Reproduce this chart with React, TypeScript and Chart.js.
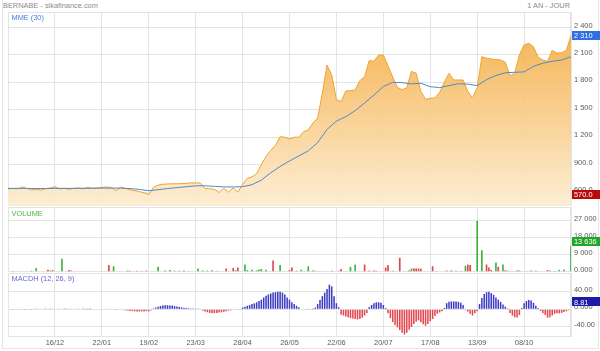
import React, { useEffect, useRef } from 'react';
import { Chart, registerables } from 'chart.js';

Chart.register(...registerables);

// ---------- DATA ----------
const chartTitle = 'BERNABE - sikafinance.com';
const periodLabel = '1 AN - JOUR';
const mmeLabel = 'MME (30)';
const volumeLabel = 'VOLUME';
const macdLabel = 'MACDH (12, 26, 9)';

const totalBars = 240;
const barsPerGrid = 20;
const dateLabels = ['16/12', '22/01', '19/02', '23/03', '28/04', '26/05', '22/06', '20/07', '17/08', '13/09', '08/10'];

const priceTicks = [600, 900, 1200, 1500, 1800, 2100, 2400];
const volumeTicks = [0, 9000, 18000, 27000];
const macdTicks = [-40, 0, 40];

// closing price, one value every 2 sessions
const priceStep = 2;
const price = [
  635, 640, 633, 655, 640, 622, 630, 620, 635, 645,
  658, 635, 640, 630, 640, 645, 635, 650, 640, 645,
  650, 655, 650, 615, 655, 640, 625, 615, 605, 590,
  572, 650, 675, 685, 688, 690, 690, 692, 695, 700,
  700, 698, 640, 635, 630, 595, 640, 600, 645, 600,
  680, 750, 765, 800, 900, 990, 1055, 1110, 1205, 1200,
  1180, 1200, 1200, 1260, 1280, 1355, 1410, 1680, 1990, 1880,
  1610, 1590, 1705, 1710, 1717, 1820, 1860, 2040, 2030, 2100,
  2100, 1980, 1860, 1745, 1720, 1740, 1920, 1900, 1700, 1615,
  1625, 1630, 1690, 1800, 1900, 1826, 1826, 1826, 1700, 1630,
  1740, 2080, 2065, 2055, 2050, 2045, 2020, 1870, 1900, 2100,
  2210, 2228, 2190, 2075, 2045, 2030, 2150, 2120, 2125, 2150,
  2310,
];

// MME(30), one value every 4 sessions
const mmeStep = 4;
const mme30 = [
  640, 640, 640, 638, 638, 640, 640, 640, 641, 642,
  643, 643, 642, 638, 628, 615, 625, 638, 648, 658,
  668, 668, 662, 656, 655, 658, 680, 730, 810, 880,
  940, 995, 1050, 1140, 1285, 1375, 1425, 1490, 1575, 1660,
  1755, 1800, 1797, 1783, 1790, 1753, 1742, 1765, 1785, 1780,
  1765, 1830, 1875, 1905, 1910, 1915, 1975, 2010, 2030, 2045,
  2080,
];

// daily volume (241 sessions)
const volume = [
  0, 0, 400, 0, 0, 300, 0, 0, 300, 0, 500, 0, 2000, 0, 300, 0, 0, 1000, 600, 900,
  0, 0, 0, 6900, 0, 0, 900, 600, 0, 0, 300, 0, 0, 200, 0, 300, 0, 300, 0, 0,
  0, 0, 0, 3500, 0, 2900, 0, 0, 0, 0, 0, 600, 500, 0, 0, 500, 0, 400, 0, 600,
  0, 0, 0, 0, 2600, 0, 0, 700, 0, 900, 0, 600, 0, 500, 0, 700, 0, 400, 0, 0,
  0, 1700, 0, 700, 0, 600, 0, 800, 0, 400, 0, 300, 0, 1700, 0, 0, 2000, 800, 2200, 0,
  0, 3800, 800, 0, 1000, 0, 700, 1200, 1400, 0, 1000, 0, 0, 6000, 0, 0, 3500, 0, 300, 0,
  900, 2250, 0, 500, 0, 1000, 0, 0, 2900, 0, 600, 500, 0, 400, 0, 0, 300, 0, 500, 0,
  0, 500, 1400, 0, 300, 0, 2600, 0, 3800, 0, 0, 0, 3800, 0, 600, 0, 700, 500, 0, 0,
  0, 2250, 3500, 0, 500, 0, 0, 7400, 0, 300, 0, 800, 1700, 1700, 1700, 1700, 1600, 0, 0, 0,
  0, 2900, 0, 400, 0, 300, 0, 600, 0, 700, 0, 500, 0, 400, 0, 3100, 3800, 3500, 0, 0,
  27000, 0, 11300, 0, 3800, 2200, 900, 0, 4850, 2600, 0, 3800, 800, 500, 0, 300, 0, 700, 700, 0,
  0, 400, 0, 700, 0, 500, 0, 300, 0, 0, 900, 500, 0, 400, 0, 1000, 0, 1200, 0, 0, 13636,
];

// sessions closing down (red volume bars)
const downDays = [
  2, 10, 17, 19, 26, 27, 35, 43, 51, 52, 55, 57, 59, 89, 93, 96, 98, 113, 118,
  120, 121, 131, 136, 138, 141, 142, 152, 154, 156, 157, 161, 162, 167, 173, 174,
  175, 176, 181, 185, 187, 189, 196, 197, 204, 205, 206, 209, 212, 213, 225, 230, 231, 233,
];

// MACD histogram (241 sessions)
const macdHist = [
  -0.8, -1, -0.6, -1, -0.8, -1.2, -0.8, -0.6, -1, -0.8, -0.5, -0.6, 0.8, 1, 1.2, 1.5, 1.8, 1.6, 2, 1.5,
  1.2, 1, 0.8, 1.5, 2, 1.6, 1.2, 0.8, 1, 1.4, 1.6, 1.2, 0.8, 0.5, 0.5, 0.3, 0, 0, 0, 0,
  0, 0, 0.8, -0.8, 0, 0, -1.5, 0, 0, 0, -2, -3, -3.5, -4, -4.5, -5, -5, -4.5, -5, -4,
  -4.5, -2, 2, 4, 6, 7.5, 8.5, 9.6, 9.5, 9, 8.5, 7.5, 6.5, 5.5, 4.5, 3.5, 3, 2.5, 2, 2,
  1.5, 1, 0, -3, -5, -6.5, -8, -9, -8.5, -8, -7, -6.5, -5.5, -4.5, -3, -2, 0, 0, -1.5, -1,
  4, 6, 8, 10, 12, 13.6, 16, 19, 22, 27, 31, 34, 36, 38, 39, 40, 40, 38, 34, 27,
  22, 16, 12, 8, 5, -1, 0.8, -1, 0.5, -0.8, 0.5, 4, 12, 21, 30, 38, 46, 56, 52, 30,
  14, 5, -12, -14, -16, -18, -20, -21, -22, -23, -22, -19, -14, -8, 5, 10, 14, 16, 16, 15,
  10, 3, -9, -20, -29, -36, -41, -47, -53, -57, -53, -46, -40, -33, -28, -25, -29, -34, -37, -33,
  -27, -22, -15, -10, -7, -4, 3, 14, 17, 18, 18, 18, 17, 15, 10, -2, -5, -10, -14, -9,
  -4, 12, 26, 35, 39, 40, 37, 33, 27, 22, 17, 11, 6, 2, -8, -14, -18, -18.5, -13, 3,
  14, 19, 21, 20, 15, 8, 3, -4, -9, -13, -19, -18, -14, -10, -9, -9, -8, -6, -4, -2, -1,
];

const lastPrice = 2310;
const minPrice = 570;
const lastVolume = 13636;
const lastMacd = 8.81;

// ---------- STYLE ----------
const FONT = 'Liberation Sans, Arial, sans-serif';
const FS = 7.4;
const GRID = '#e4e4e4';
const TICK = '#5a5a5a';
const AXIS_W = 29;

function fmt(v: number): string {
  if (Math.abs(v) >= 1000) return Math.round(v).toString().replace(/\B(?=(\d{3})+(?!\d))/g, ' ');
  return v.toPrecision(4);
}

type Tag = { value: number; text: string; color: string; shift?: number };

function makePanelPlugin(tags: Tag[]) {
  return {
    id: 'panel',
    beforeDatasetsDraw(chart: any) {
      const { ctx, chartArea: a } = chart;
      ctx.save();
      ctx.strokeStyle = GRID;
      ctx.lineWidth = 1;
      ctx.strokeRect(a.left + 0.5, a.top + 0.5, a.right - a.left - 1, a.bottom - a.top - 1);
      ctx.restore();
    },
    afterDraw(chart: any) {
      const { ctx, chartArea: a, scales } = chart;
      tags.forEach((t) => {
        const y = scales.y.getPixelForValue(t.value) + (t.shift || 0);
        ctx.save();
        ctx.fillStyle = t.color;
        ctx.fillRect(a.right + 1, Math.round(y - 4.5), chart.width - a.right - 1, 9);
        ctx.fillStyle = '#ffffff';
        ctx.font = `${FS}px ${FONT}`;
        ctx.textBaseline = 'middle';
        ctx.textAlign = 'left';
        ctx.fillText(t.text, a.right + 3, y + 0.5);
        ctx.restore();
      });
    },
  };
}

function xScale(showLabels: boolean) {
  return {
    type: 'linear',
    min: 0,
    max: totalBars,
    offset: false,
    grid: { color: GRID, drawTicks: false, offset: false },
    border: { display: false },
    ticks: {
      display: showLabels,
      autoSkip: false,
      maxRotation: 0,
      padding: 2,
      color: TICK,
      font: { family: FONT, size: FS },
      callback: (v: number) => {
        const idx = Math.round(v / barsPerGrid) - 1;
        return dateLabels[idx] !== undefined && v > 0 && v < totalBars ? dateLabels[idx] : '';
      },
    },
    afterBuildTicks: (s: any) => {
      const t = [];
      for (let v = 0; v <= totalBars; v += barsPerGrid) t.push({ value: v });
      s.ticks = t;
    },
    afterFit: (s: any) => {
      s.height = showLabels ? 14 : 0;
      s.paddingLeft = 0;
      s.paddingRight = 0;
    },
  };
}

function yScale(min: number, max: number, tickValues: number[]) {
  return {
    type: 'linear',
    position: 'right',
    min,
    max,
    grid: { color: GRID, drawTicks: false },
    border: { display: false },
    ticks: {
      padding: 3,
      labelOffset: -2,
      color: TICK,
      font: { family: FONT, size: FS },
      callback: (v: number) => fmt(v),
    },
    afterBuildTicks: (s: any) => {
      s.ticks = tickValues.map((v) => ({ value: v }));
    },
    afterFit: (s: any) => {
      s.width = AXIS_W;
      s.paddingTop = 0;
      s.paddingBottom = 0;
    },
  };
}

const baseOptions = {
  animation: false,
  responsive: false,
  maintainAspectRatio: false,
  devicePixelRatio: 1,
  events: [],
  layout: { padding: 0 },
};

export default function App() {
  const priceRef = useRef<HTMLCanvasElement>(null);
  const volRef = useRef<HTMLCanvasElement>(null);
  const macdRef = useRef<HTMLCanvasElement>(null);

  useEffect(() => {
    const charts: Chart[] = [];

    charts.push(
      new Chart(priceRef.current as HTMLCanvasElement, {
        type: 'line',
        data: {
          datasets: [
            {
              label: mmeLabel,
              data: mme30.map((v, m) => ({ x: m * mmeStep, y: v })),
              borderColor: '#4f89c9',
              borderWidth: 1,
              pointRadius: 0,
              fill: false,
              tension: 0,
            },
            {
              label: chartTitle,
              data: price.map((v, k) => ({ x: k * priceStep, y: v })),
              borderColor: '#f0a22f',
              borderWidth: 1,
              pointRadius: 0,
              tension: 0,
              fill: 'start',
              backgroundColor: (ctx: any) => {
                const { chart } = ctx;
                const a = chart.chartArea;
                if (!a) return 'rgba(246,190,110,0.85)';
                const g = chart.ctx.createLinearGradient(0, a.top, 0, a.bottom);
                g.addColorStop(0, 'rgba(243,166,52,0.9)');
                g.addColorStop(1, 'rgba(253,236,208,0.9)');
                return g;
              },
            },
          ],
        },
        options: {
          ...baseOptions,
          scales: { x: xScale(false), y: yScale(447, 2570, priceTicks) },
          plugins: { legend: { display: false }, tooltip: { enabled: false } },
        } as any,
        plugins: [
          makePanelPlugin([
            { value: lastPrice, text: fmt(lastPrice), color: '#2f6fe0' },
            { value: minPrice, text: minPrice.toFixed(1), color: '#b80c0c' },
          ]),
        ],
      } as any)
    );

    charts.push(
      new Chart(volRef.current as HTMLCanvasElement, {
        type: 'bar',
        data: {
          datasets: [
            {
              label: volumeLabel,
              data: volume.map((v, i) => ({ x: i, y: v })),
              backgroundColor: volume.map((_, i) => (downDays.includes(i) ? '#e5434b' : '#3fb13f')),
              barPercentage: 0.7,
              categoryPercentage: 1,
              borderWidth: 0,
            },
          ],
        },
        options: {
          ...baseOptions,
          scales: { x: xScale(false), y: yScale(-150, 34250, volumeTicks) },
          plugins: { legend: { display: false }, tooltip: { enabled: false } },
        } as any,
        plugins: [makePanelPlugin([{ value: lastVolume, text: fmt(lastVolume), color: '#22a62a', shift: -4 }])],
      } as any)
    );

    charts.push(
      new Chart(macdRef.current as HTMLCanvasElement, {
        type: 'bar',
        data: {
          datasets: [
            {
              label: macdLabel,
              data: macdHist.map((v, i) => ({ x: i, y: v })),
              backgroundColor: macdHist.map((v) => (v >= 0 ? '#3d3dc4' : '#e2474d')),
              barPercentage: 0.65,
              categoryPercentage: 1,
              borderWidth: 0,
            },
          ],
        },
        options: {
          ...baseOptions,
          scales: { x: xScale(true), y: yScale(-62.7, 82.5, macdTicks) },
          plugins: { legend: { display: false }, tooltip: { enabled: false } },
        } as any,
        plugins: [makePanelPlugin([{ value: lastMacd, text: lastMacd.toFixed(2), color: '#1c1ca8', shift: -3.5 }])],
      } as any)
    );

    return () => charts.forEach((c) => c.destroy());
  }, []);

  const txt = (extra: React.CSSProperties): React.CSSProperties => ({
    position: 'absolute',
    fontFamily: FONT,
    fontSize: FS,
    lineHeight: '9px',
    whiteSpace: 'nowrap',
    ...extra,
  });

  return (
    <div
      style={{
        position: 'fixed',
        left: 0,
        top: 0,
        width: 600,
        height: 351,
        background: '#ffffff',
        overflow: 'hidden',
      }}
    >
      <div
        style={{
          position: 'absolute',
          left: 2,
          top: -1,
          width: 597,
          height: 350,
          border: '1px solid #e6e6e6',
          boxSizing: 'border-box',
        }}
      />
      <canvas ref={priceRef} width={592} height={194} style={{ position: 'absolute', left: 8, top: 12, width: 592, height: 194 }} />
      <canvas ref={volRef} width={592} height={65} style={{ position: 'absolute', left: 8, top: 207, width: 592, height: 65 }} />
      <canvas ref={macdRef} width={592} height={78} style={{ position: 'absolute', left: 8, top: 273, width: 592, height: 78 }} />
      <div style={txt({ left: 3, top: 1, color: '#8a8a8a' })}>{chartTitle}</div>
      <div style={txt({ right: 30, top: 1, color: '#8a8a8a' })}>{periodLabel}</div>
      <div style={txt({ left: 11.5, top: 12.5, color: '#3f7fd4' })}>{mmeLabel}</div>
      <div style={txt({ left: 11.5, top: 208.5, color: '#45b845' })}>{volumeLabel}</div>
      <div style={txt({ left: 11.5, top: 274.3, color: '#6868d4' })}>{macdLabel}</div>
    </div>
  );
}
